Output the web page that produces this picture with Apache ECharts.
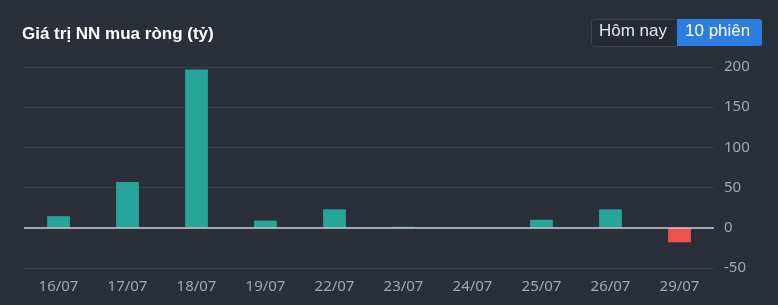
<!DOCTYPE html>
<html><head><meta charset="utf-8">
<script src="https://cdn.jsdelivr.net/npm/echarts@6/dist/echarts.min.js"></script>
<style>html,body{margin:0;padding:0;background:#2b2f39;}#c{width:778px;height:305px;}</style>
</head><body><div id="c"></div>
<script>
const categories = ['16/07','17/07','18/07','19/07','22/07','23/07','24/07','25/07','26/07','29/07'];
const values = [14.5, 57, 197, 9, 23, 1.2, 0.6, 10, 23, -18];
const yTicks = [-50, 0, 50, 100, 150, 200];
const titleText = 'Giá trị NN mua ròng (tỷ)';
const buttons = ['Hôm nay', '10 phiên'];

const chart = echarts.init(document.getElementById('c'), null, {renderer:'canvas'});
chart.setOption({
  backgroundColor: '#2b2f39',
  animation: false,
  title: {text: titleText, left: 17, top: 21, textStyle: {color: '#ffffff', fontSize: 17, fontWeight: 'bold', fontFamily: 'Liberation Sans, Arial, sans-serif'}},
  grid: {left: 24, right: 64, top: 67, bottom: 37},
  xAxis: {type: 'category', data: categories,
    axisLine: {show: false}, axisTick: {show: false},
    axisLabel: {color: '#a4a7b1', fontSize: 15, margin: 11, fontFamily: 'Noto Sans, sans-serif'}},
  yAxis: {type: 'value', position: 'right', min: yTicks[0], max: yTicks[yTicks.length-1], interval: 50,
    axisLine: {show: false}, axisTick: {show: false},
    axisLabel: {color: '#a4a7b1', fontSize: 15, margin: 10, fontFamily: 'Noto Sans, sans-serif'},
    splitLine: {lineStyle: {color: '#3b404c', width: 1}}},
  series: [{type: 'bar', barWidth: '33%',
    data: values.map(v => ({value: v, itemStyle: {color: v >= 0 ? '#26a69a' : '#ef5350'}})),
    markLine: {silent: true, symbol: 'none', label: {show: false},
      lineStyle: {color: '#c9cbd2', width: 1.5, type: 'solid'}, data: [{yAxis: 0}]}
  }],
  graphic: [
    {type: 'rect', left: 591, top: 19, shape: {width: 86, height: 27, r: [3,0,0,3]}, style: {fill: '#262a33', stroke: '#3d424d', lineWidth: 1}},
    {type: 'text', left: 599, top: 23, style: {text: buttons[0], fill: '#e6e7ea', fontSize: 17, fontFamily: 'Liberation Sans, Arial, sans-serif'}},
    {type: 'rect', left: 677, top: 19, shape: {width: 85, height: 27, r: [0,3,3,0]}, style: {fill: '#2b7de0'}},
    {type: 'text', left: 685, top: 23, style: {text: buttons[1], fill: '#ffffff', fontSize: 17, fontFamily: 'Liberation Sans, Arial, sans-serif'}}
  ]
});
</script></body></html>
